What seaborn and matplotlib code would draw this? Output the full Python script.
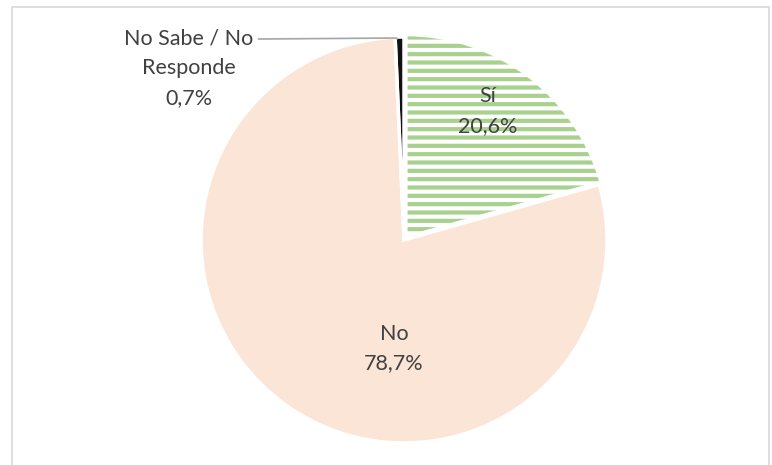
import matplotlib
matplotlib.use("Agg")
import matplotlib.pyplot as plt
import seaborn as sns
from matplotlib.patches import Rectangle

sns.set_theme(style="white")
plt.rcParams['font.family'] = ['Lato', 'DejaVu Sans']
plt.rcParams['hatch.linewidth'] = 3.0

categories = ["Sí", "No", "No Sabe / No\nResponde"]
values = [20.6, 78.7, 0.7]
value_labels = ["20,6%", "78,7%", "0,7%"]

face_colors = ["white", "#fbe5d6", "#111111"]
edge_colors = ["#a9d18e", "#fbe5d6", "#111111"]
hatches = ["--", None, None]

W, H = 772, 465
fig = plt.figure(figsize=(W / 100, H / 100), dpi=100)
fig.patch.set_facecolor("white")

# chart frame
fig.patches.append(Rectangle((12 / W, -0.01), (769 - 12) / W, 1 - 7 / H + 0.01,
                             transform=fig.transFigure, fill=False,
                             edgecolor="#d9d9d9", linewidth=1.2))

cx, cy, r = 404, 240, 203
ax = fig.add_axes([(cx - r) / W, (H - cy - r) / H, 2 * r / W, 2 * r / H])

explode = [0.015, 0, 0]
wedges, _ = ax.pie(values, startangle=90, counterclock=False, radius=1,
                   explode=explode, colors=face_colors)
for w, ec, h in zip(wedges, edge_colors, hatches):
    w.set_edgecolor(ec)
    w.set_linewidth(0)
    if h:
        w.set_hatch(h)

# white separators
ax.pie(values, startangle=90, counterclock=False, radius=1, explode=explode,
       colors=["none"] * 3, wedgeprops=dict(edgecolor="white", linewidth=2.5))

ax.set_xlim(-1, 1)
ax.set_ylim(-1, 1)
ax.set_aspect("equal")
ax.axis("off")

txt = dict(color="#404040", fontsize=15.5, ha="center", va="center", linespacing=1.62)
ax.text(0.41, 0.635, f"{categories[0]}\n{value_labels[0]}", **txt)
ax.text(-0.05, -0.535, f"{categories[1]}\n{value_labels[1]}", **txt)
ax.text(-1.06, 0.845, f"{categories[2]}\n{value_labels[2]}", **txt)

# leader line for small slice
ax.plot([-0.72, -0.04, -0.03], [0.99, 0.995, 0.99], color="#a6a6a6", linewidth=1.2,
        solid_capstyle="butt")

fig.savefig("out.png", dpi=100, facecolor="white")
